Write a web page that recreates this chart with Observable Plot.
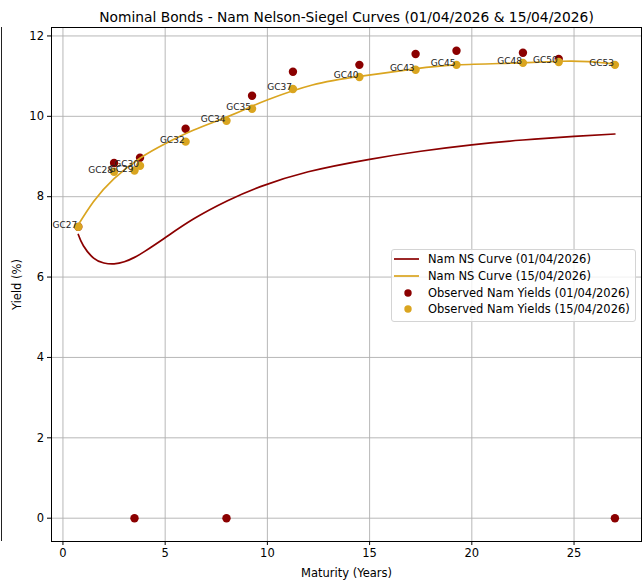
<!DOCTYPE html>
<html><head><meta charset="utf-8">
<script src="https://cdn.jsdelivr.net/npm/d3@7"></script>
<script src="https://cdn.jsdelivr.net/npm/@observablehq/plot@0.6"></script>
<style>
body{margin:0;background:#fff;font-family:"DejaVu Sans",sans-serif;}
#wrap{position:relative;width:642px;height:583px;overflow:hidden;}
#edge{position:absolute;left:1px;top:27px;width:1px;height:514px;background:#222;}
#legend{position:absolute;left:391px;top:249px;width:243px;height:71px;border:1px solid #d4d4d4;border-radius:3px;background:rgba(255,255,255,0.8);font-size:11.5px;color:#000;font-family:"DejaVu Sans",sans-serif;}
#legend .row{position:absolute;left:0;height:16px;width:240px;}
#legend .lab{position:absolute;left:36px;top:0px;white-space:nowrap;line-height:16px;}
#legend svg{position:absolute;left:0;top:0;}
</style></head><body><div id="wrap"><div id="edge"></div><div id="legend"></div></div>
<script>
const title = "Nominal Bonds - Nam Nelson-Siegel Curves (01/04/2026 & 15/04/2026)";
const bonds = ["GC27","GC28","GC29","GC30","GC32","GC34","GC35","GC37","GC40","GC43","GC45","GC48","GC50","GC53"];
const maturities = [0.75, 2.5, 3.5, 3.77, 6.0, 8.0, 9.25, 11.25, 14.5, 17.25, 19.25, 22.5, 24.25, 27.0];
const yields0104 = [7.25, 8.84, 0, 8.97, 9.69, 0, 10.51, 11.11, 11.28, 11.55, 11.63, 11.58, 11.43, 0];
const yields1504 = [7.25, 8.62, 8.65, 8.77, 9.37, 9.89, 10.19, 10.68, 10.98, 11.16, 11.28, 11.33, 11.35, 11.28];

const curveMat0104 = [0.75, 1.0, 1.5, 2.0, 2.5, 3.0, 3.5, 4.0, 5.0, 6.4, 8.05, 9.66, 12.0, 15.0, 17.5, 20.0, 22.5, 25.0, 27.0];
const curveYld0104 = [7.06, 6.78, 6.47, 6.35, 6.33, 6.38, 6.49, 6.64, 6.98, 7.45, 7.90, 8.25, 8.62, 8.93, 9.13, 9.29, 9.41, 9.50, 9.56];
const curveMat1504 = [0.75, 1.5, 2.5, 3.8, 5.0, 6.4, 8.0, 9.25, 10.05, 12.2, 14.6, 17.2, 19.3, 22.4, 24.4, 25.7, 27.0];
const curveYld1504 = [7.30, 7.88, 8.45, 8.97, 9.32, 9.66, 9.98, 10.25, 10.42, 10.78, 11.00, 11.18, 11.28, 11.33, 11.37, 11.36, 11.30];

const xTicks = [0, 5, 10, 15, 20, 25];
const yTicks = [0, 2, 4, 6, 8, 10, 12];

const legendItems = [
  {label: "Nam NS Curve (01/04/2026)", kind: "line", color: "#8B0000"},
  {label: "Nam NS Curve (15/04/2026)", kind: "line", color: "#DAA520"},
  {label: "Observed Nam Yields (01/04/2026)", kind: "dot", color: "#8B0000"},
  {label: "Observed Nam Yields (15/04/2026)", kind: "dot", color: "#DAA520"}
];

const RED = "#8B0000", GOLD = "#DAA520";

const obs0104 = bonds.map((b, i) => ({bond: b, m: maturities[i], y: yields0104[i]}));
const obs1504 = bonds.map((b, i) => ({bond: b, m: maturities[i], y: yields1504[i]}));
const curve0104 = curveMat0104.map((m, i) => ({m, y: curveYld0104[i]}));
const curve1504 = curveMat1504.map((m, i) => ({m, y: curveYld1504[i]}));

const chart = Plot.plot({
  width: 642, height: 583,
  marginLeft: 51, marginRight: 1, marginTop: 27, marginBottom: 42,
  style: {fontFamily: "DejaVu Sans", fontSize: "11.5px", color: "#000", background: "transparent"},
  x: {domain: [-0.56, 28.3], ticks: xTicks, label: "Maturity (Years)", labelAnchor: "center", labelArrow: "none", tickSize: 4, tickPadding: 3.5, labelOffset: 35},
  y: {domain: [-0.58, 12.21], ticks: yTicks, label: "Yield (%)", labelAnchor: "center", labelArrow: "none", tickSize: 4, tickPadding: 3.5, labelOffset: 39},
  marks: [
    Plot.gridX(xTicks, {stroke: "#b0b0b0", strokeOpacity: 1, strokeWidth: 0.9}),
    Plot.gridY(yTicks, {stroke: "#b0b0b0", strokeOpacity: 1, strokeWidth: 0.9}),
    Plot.dot(obs0104, {x: "m", y: "y", r: 4.2, fill: RED}),
    Plot.dot(obs1504, {x: "m", y: "y", r: 4.2, fill: GOLD}),
    Plot.line(curve0104, {x: "m", y: "y", stroke: RED, strokeWidth: 1.7, curve: "natural"}),
    Plot.line(curve1504, {x: "m", y: "y", stroke: GOLD, strokeWidth: 1.7, curve: "natural"}),
    Plot.text(obs1504, {x: "m", y: "y", text: "bond", textAnchor: "end", lineAnchor: "bottom", dx: -1, dy: 1, fontSize: 9, fill: "#222"}),
    Plot.frame({stroke: "#000", strokeWidth: 1}),
    Plot.text([title], {frameAnchor: "top", dy: -6, lineAnchor: "bottom", fontSize: 13.8, fill: "#000"})
  ]
});
document.getElementById("wrap").prepend(chart);

const leg = d3.select("#legend");
const rowTops = [1, 18, 35, 51];
legendItems.forEach((it, i) => {
  const row = leg.append("div").attr("class", "row").style("top", rowTops[i] + "px");
  const svg = row.append("svg").attr("width", 34).attr("height", 16);
  if (it.kind === "line") {
    svg.append("line").attr("x1", 2).attr("x2", 27).attr("y1", 8).attr("y2", 8).attr("stroke", it.color).attr("stroke-width", 1.7);
  } else {
    svg.append("circle").attr("cx", 16).attr("cy", 8).attr("r", 3.7).attr("fill", it.color);
  }
  row.append("div").attr("class", "lab").text(it.label);
});
</script></body></html>
